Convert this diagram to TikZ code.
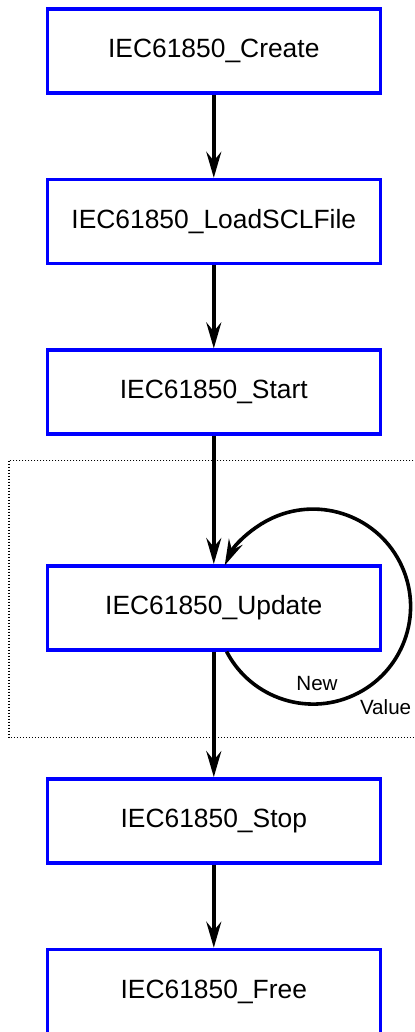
\documentclass[tikz,border=0pt]{standalone}
\usepackage{fontspec}
\setmainfont{Liberation Sans}
\usetikzlibrary{positioning,arrows.meta}
\definecolor{boxblue}{HTML}{0000FF}

\begin{document}
\begin{tikzpicture}[node distance=41.5pt,box/.style={draw=boxblue,fill=white,line width=1.8pt,minimum width=166.5pt,minimum height=42pt,inner sep=0pt,font=\fontsize{13.2}{15}\selectfont},flow/.style={-{Stealth[length=13pt,width=7.5pt,inset=4.5pt]},line width=1.8pt},frame/.style={dash pattern=on 0.5pt off 1pt,line width=0.6pt},note/.style={inner sep=0pt,font=\fontsize{10.3}{12}\selectfont}]
\useasboundingbox (0,0) rectangle (207pt,-516pt);
\clip (0,0) rectangle (207pt,-516pt);
\node[box] (create) at (106.9pt,-25.5pt) {IEC61850\_Create};
\node[box,below=of create] (load) {IEC61850\_LoadSCLFile};
\node[box,below=of load] (start) {IEC61850\_Start};
\node[box,below=64pt of start] (update) {IEC61850\_Update};
\node[box,below=62.75pt of update] (stop) {IEC61850\_Stop};
\node[box,below=of stop] (free) {IEC61850\_Free};
% running phase
\draw[frame] ([shift={(-18.25pt,51.75pt)}]update.north west) rectangle ([shift={(21.25pt,-43pt)}]update.south east);
\draw[flow] (create.south)--(load.north);
\draw[flow] (load.south)--(start.north);
\draw[flow] (start.south)--(update.north);
\draw[flow] (update.south)--(stop.north);
\draw[flow] (stop.south)--(free.north);
% value loop
\draw[flow] ([xshift=6.4pt]update.south) arc[start angle=-152.5,end angle=155,radius=48.75pt];
\node[note] (new) at ([shift={(51.6pt,-37.75pt)}]update.center) {New};
\node[note] (value) at ([shift={(85.9pt,-49.75pt)}]update.center) {Value};
\end{tikzpicture}
\end{document}
